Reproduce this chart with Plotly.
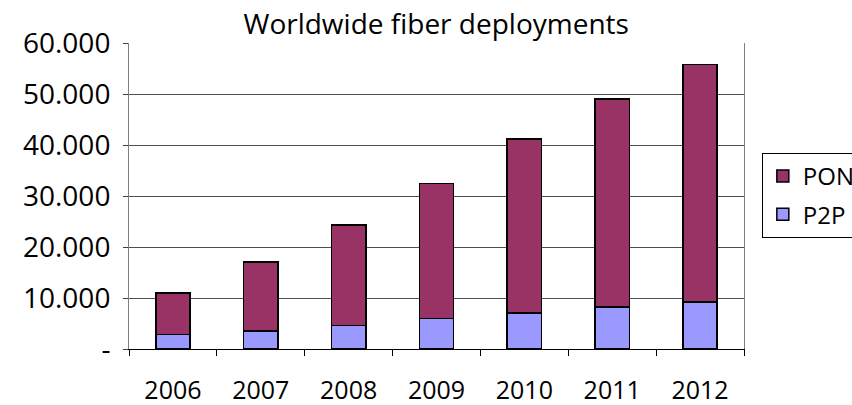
import plotly.graph_objects as go

years = ["2006", "2007", "2008", "2009", "2010", "2011", "2012"]
p2p = [2850, 3500, 4600, 6000, 7100, 8200, 9250]
pon = [8150, 13600, 19700, 26500, 34100, 40800, 46550]
y_ticks = [0, 10000, 20000, 30000, 40000, 50000, 60000]
y_tick_labels = ["-", "10.000", "20.000", "30.000", "40.000", "50.000", "60.000"]

FONT = "Open Sans"

fig = go.Figure()
fig.add_trace(go.Bar(x=years, y=p2p, name="P2P", legendgroup="p2p", legendrank=2,
                     marker=dict(color="#9999FF", line=dict(color="black", width=1.5))))
fig.add_trace(go.Bar(x=years, y=pon, name="PON", legendgroup="pon", legendrank=1,
                     marker=dict(color="#993366", line=dict(color="black", width=1.5))))

fig.update_layout(
    width=852, height=405,
    barmode="stack", bargap=0.61,
    paper_bgcolor="white", plot_bgcolor="white",
    margin=dict(l=129, r=108, t=43, b=56, autoexpand=False),
    font=dict(family=FONT, color="black"),
    title=dict(text="Worldwide fiber deployments", x=0.512, xanchor="center",
               y=0.94, yanchor="middle", font=dict(size=28, family=FONT)),
    legend=dict(x=1.029, xanchor="left", y=0.6405, yanchor="top",
                traceorder="grouped", tracegroupgap=4,
                bordercolor="black", borderwidth=1,
                font=dict(size=24, family=FONT), bgcolor="white"),
    showlegend=True,
)
fig.update_xaxes(type="category", showline=True, linecolor="black", linewidth=1,
                 ticks="outside", tickson="boundaries", ticklen=6, tickcolor="black",
                 tickfont=dict(size=25, family=FONT), ticklabelstandoff=19,
                 showgrid=False, automargin=False)
fig.update_yaxes(range=[0, 60000], tickvals=y_ticks, ticktext=y_tick_labels,
                 showline=True, linecolor="#808080", linewidth=1, mirror=True,
                 ticks="outside", ticklen=5, tickcolor="#404040",
                 tickfont=dict(size=28, family=FONT), ticklabelstandoff=7,
                 showgrid=True, gridcolor="#505050", gridwidth=1, zeroline=False,
                 automargin=False)

fig.write_html("out.html", config={"displayModeBar": False},
               post_script="document.body.style.margin='0px';document.body.style.overflow='hidden';")
